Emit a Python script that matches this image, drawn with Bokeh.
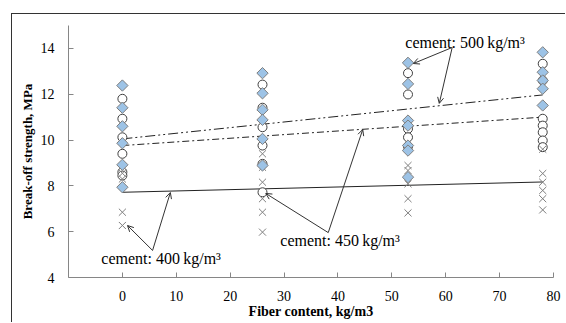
from bokeh.plotting import figure
from bokeh.models import (ColumnDataSource, Arrow, OpenHead, FixedTicker, Range1d)
from bokeh.embed import file_html
from bokeh.resources import INLINE
from bokeh.core.properties import value
import math

# ---------------- data ----------------
fiber_levels = [0, 26, 53, 78]

# cement 400 kg/m3 (crosses)
c400_f0 = [8.55, 8.3, 6.85, 6.27]
c400_f26 = [9.40, 8.81, 8.16, 7.44, 6.85, 5.98]
c400_f53 = [8.89, 8.67, 8.09, 7.44, 6.82]
c400_f78 = [9.6, 8.54, 8.16, 7.80, 7.44, 6.95]

# cement 450 kg/m3 (circles)
c450_f0 = [11.80, 10.93, 10.12, 9.40, 8.60, 8.45]
c450_f26 = [12.42, 11.41, 10.56, 9.76, 8.96, 7.72]
c450_f53 = [12.92, 11.99, 10.49, 10.12, 9.72]
c450_f78 = [13.33, 12.60, 10.93, 10.63, 10.34, 9.98, 9.69]

# cement 500 kg/m3 (diamonds)
c500_f0 = [12.38, 11.41, 10.60, 9.86, 8.92, 7.94]
c500_f26 = [12.92, 12.04, 11.32, 10.88, 10.05, 8.89]
c500_f53 = [13.37, 12.45, 10.85, 10.63, 9.76, 9.54, 8.38]
c500_f78 = [13.83, 12.96, 12.60, 12.24, 11.51]

# linear trend lines (values at fiber 0 and 78)
trend_x = [0, 78]
trend400 = [7.72, 8.17]
trend450 = [9.76, 11.00]
trend500 = [10.05, 11.97]

x_ticks = [0, 10, 20, 30, 40, 50, 60, 70, 80]
y_ticks = [4, 6, 8, 10, 12, 14]

label_text = ["cement: 400\u2009kg/m\u00b3", "cement: 450\u2009kg/m\u00b3", "cement: 500\u2009kg/m\u00b3"]
label_x = [-3.9, 29.3, 52.5]
label_y = [4.83, 5.61, 14.27]

arrow_x0 = [5.6, 5.6, 38.2, 38.2, 61.2, 61.2]
arrow_y0 = [5.18, 5.18, 5.96, 5.96, 14.04, 14.04]
arrow_x1 = [0.95, 8.9, 26.6, 44.6, 54.0, 58.8]
arrow_y1 = [6.27, 7.71, 7.67, 10.46, 13.34, 11.60]


def flatten(groups):
    xs, ys = [], []
    for f, vals in zip(fiber_levels, groups):
        xs += [f] * len(vals)
        ys += vals
    return xs, ys


x400, y400 = flatten([c400_f0, c400_f26, c400_f53, c400_f78])
x450, y450 = flatten([c450_f0, c450_f26, c450_f53, c450_f78])
x500, y500 = flatten([c500_f0, c500_f26, c500_f53, c500_f78])

# ---------------- figure ----------------
p = figure(width=554, height=309, x_range=Range1d(-10, 80), y_range=Range1d(4, 15),
           output_backend="svg", toolbar_location=None,
           min_border_left=56, min_border_right=13, min_border_top=11, min_border_bottom=46)
# outer chart-area border: only the left and top edges fall inside the window
p.styles = {"border-left": "1px solid #333333", "border-top": "1px solid #333333",
            "margin-left": "11px", "margin-top": "13px"}
p.outline_line_color = None
p.xgrid.visible = False
p.ygrid.visible = False
p.background_fill_color = "white"
p.border_fill_color = "white"

serif = "Liberation Serif"
for ax in (p.xaxis[0], p.yaxis[0]):
    ax.axis_line_color = "#868686"
    ax.major_tick_line_color = "#868686"
    ax.major_tick_in = 5
    ax.major_tick_out = 0
    ax.minor_tick_line_color = None
    ax.major_label_text_font = serif
    ax.major_label_text_font_size = "14px"
    ax.major_label_text_color = "#000000"
    ax.axis_label_text_font = serif
    ax.axis_label_text_font_size = "14px"
    ax.axis_label_text_font_style = "bold"
    ax.axis_label_text_color = "#000000"

p.yaxis[0].axis_label_text_font_size = "13px"
p.xaxis[0].ticker = FixedTicker(ticks=x_ticks)
p.yaxis[0].ticker = FixedTicker(ticks=y_ticks)
p.xaxis[0].axis_label = "Fiber content, kg/m3"
p.yaxis[0].axis_label = "Break-off strength, MPa"
p.xaxis[0].major_label_standoff = 13
p.xaxis[0].axis_label_standoff = 0
p.yaxis[0].major_label_standoff = 14
p.yaxis[0].axis_label_standoff = 3

# trend lines
p.line(trend_x, trend400, line_color="#222222", line_width=1)
p.line(trend_x, trend450, line_color="#222222", line_width=1, line_dash="7 3 2 3")
p.line(trend_x, trend500, line_color="#222222", line_width=1, line_dash="10 3 2 3 2 3")

# markers
p.scatter(x450, y450, marker="circle", size=9, fill_color="white",
          line_color="#404040", line_width=1)
p.scatter(x400, y400, marker="x", size=10, line_color="#7f7f7f", line_width=1)
p.scatter(x500, y500, marker="square", size=8, angle=math.pi / 4,
          fill_color="#9DC3E6", line_color="#7f7f7f", line_width=1)

# annotation arrows
asrc = ColumnDataSource(dict(x0=arrow_x0, y0=arrow_y0, x1=arrow_x1, y1=arrow_y1))
p.add_layout(Arrow(end=OpenHead(size=6, line_color="#333333", line_width=1),
                   x_start="x0", y_start="y0", x_end="x1", y_end="y1",
                   source=asrc, line_color="#333333", line_width=1))

tsrc = ColumnDataSource(dict(x=label_x, y=label_y, t=label_text))
p.text(x="x", y="y", text="t", source=tsrc, text_font=value(serif),
       text_font_size="16px", text_align="left", text_baseline="middle",
       text_color="#000000")

open("out.html", "w").write(file_html(p, INLINE))
